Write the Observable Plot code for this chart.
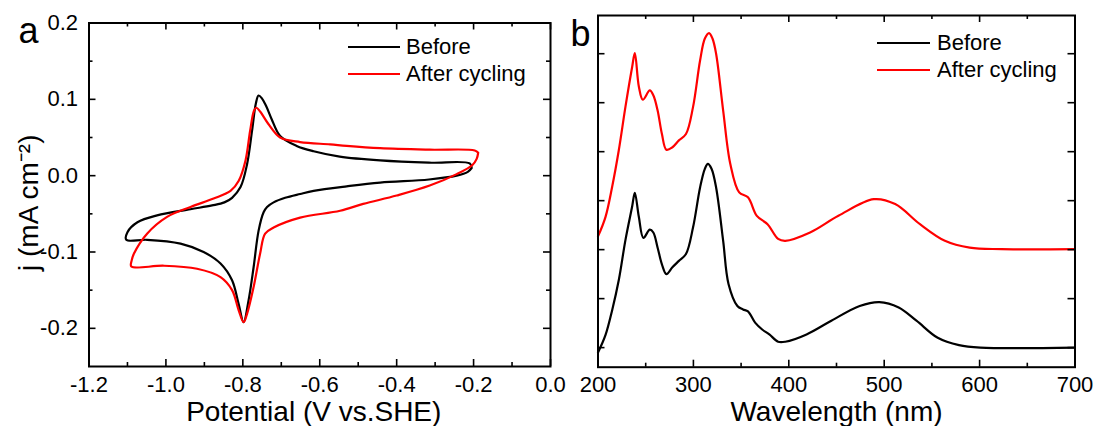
<!DOCTYPE html>
<html>
<head>
<meta charset="utf-8">
<script src="https://cdn.jsdelivr.net/npm/d3@7"></script>
<script src="https://cdn.jsdelivr.net/npm/@observablehq/plot@0.6"></script>
<style>
  body { margin: 0; background: white; }
  #wrap { position: relative; width: 1096px; height: 426px; background: white; font-family: "Liberation Sans", Arial, sans-serif; }
  .pane { position: absolute; top: 0; }
  .leg { position: absolute; font-size: 22px; line-height: 22px; color: black; white-space: nowrap; }
  .sw { position: absolute; height: 2px; }
</style>
</head>
<body>
<div id="wrap">
  <div id="pa" class="pane" style="left:0px"></div>
  <div id="pb" class="pane" style="left:570px"></div>
</div>
<script>
// ---------- Panel a: cyclic voltammetry ----------
const cvBeforeV = [-0.205,-0.215,-0.244,-0.316,-0.443,-0.530,-0.616,-0.651,-0.690,-0.720,-0.737,-0.746,-0.759,-0.772,-0.785,-0.798,-0.811,-0.828,-0.858,-0.902,-0.962,-1.049,-1.103,-1.100,-1.074,-1.023,-0.936,-0.880,-0.848,-0.828,-0.806,-0.789,-0.776,-0.766,-0.759,-0.750,-0.740,-0.725,-0.703,-0.660,-0.616,-0.548,-0.443,-0.316,-0.210,-0.205];
const cvBeforeJ = [0.010,0.005,0.000,-0.005,-0.009,-0.014,-0.020,-0.024,-0.029,-0.035,-0.041,-0.048,-0.072,-0.120,-0.163,-0.192,-0.168,-0.137,-0.115,-0.100,-0.089,-0.084,-0.084,-0.074,-0.061,-0.052,-0.044,-0.039,-0.035,-0.029,-0.015,0.015,0.059,0.095,0.105,0.101,0.092,0.074,0.052,0.039,0.032,0.025,0.020,0.017,0.016,0.010];
const cvAfterV = [-0.188,-0.192,-0.203,-0.244,-0.314,-0.400,-0.487,-0.547,-0.651,-0.720,-0.742,-0.755,-0.772,-0.789,-0.798,-0.811,-0.828,-0.858,-0.919,-1.005,-1.090,-1.089,-1.083,-1.049,-0.997,-0.936,-0.876,-0.832,-0.811,-0.793,-0.781,-0.771,-0.765,-0.755,-0.734,-0.703,-0.651,-0.573,-0.530,-0.443,-0.314,-0.197,-0.188];
const cvAfterJ = [0.030,0.022,0.014,0.002,-0.013,-0.026,-0.037,-0.046,-0.055,-0.068,-0.076,-0.102,-0.146,-0.181,-0.192,-0.176,-0.150,-0.133,-0.122,-0.118,-0.119,-0.111,-0.102,-0.076,-0.054,-0.041,-0.030,-0.020,-0.007,0.020,0.059,0.085,0.089,0.084,0.068,0.050,0.044,0.041,0.039,0.036,0.034,0.033,0.030];
const xTicksA = [-1.2,-1.0,-0.8,-0.6,-0.4,-0.2,0.0];
const xMinorA = [-1.1,-0.9,-0.7,-0.5,-0.3,-0.1];
const yTicksA = [-0.2,-0.1,0.0,0.1,0.2];
const yMinorA = [-0.15,-0.05,0.05,0.15];
const xTitleA = "Potential (V vs.SHE)";
const yTitleA = "j (mA cm\u207B\u00B2)";

// ---------- Panel b: UV-vis ----------
const uvBeforeNm = [200,207.9,214.9,221.8,228.8,235.8,238.6,242.8,247.6,254.3,258,262.5,267,271.7,278,284.8,292.2,299.6,307,312,315.2,319,323.8,331.2,336.8,346.1,352,357.2,364.7,372.1,379.6,388.8,396.3,418.6,444.6,474.3,495,515.2,533.8,556.1,578.4,600.7,700];
const uvBefore = [-0.010,0.026,0.077,0.138,0.220,0.288,0.316,0.267,0.224,0.241,0.235,0.204,0.170,0.150,0.164,0.177,0.191,0.245,0.327,0.365,0.375,0.365,0.327,0.218,0.130,0.085,0.078,0.074,0.051,0.037,0.027,0.012,0.012,0.027,0.055,0.085,0.093,0.082,0.055,0.020,0.005,0.000,0.000];
const uvAfterNm = [200,207.9,214.9,221.8,228.8,235.8,238.6,242.8,247,254.3,258,262.5,267,271.7,278,284.8,292.2,299.6,307,312,316.4,320,323.8,331.2,338.7,348,357.2,366.5,377.7,388.8,396.3,422.3,452,489.2,511.5,537.5,563.6,589.6,623,700];
const uvAfter = [0.227,0.267,0.329,0.403,0.492,0.573,0.601,0.533,0.506,0.525,0.515,0.484,0.436,0.404,0.409,0.423,0.436,0.491,0.586,0.631,0.642,0.631,0.600,0.484,0.375,0.317,0.307,0.269,0.252,0.222,0.218,0.235,0.269,0.303,0.293,0.252,0.218,0.204,0.201,0.201];
const xTicksB = [200,300,400,500,600,700];
const xMinorB = [250,350,450,550,650];
const yTicksB = [0,0.1,0.2,0.3,0.4,0.5,0.6];
const xTitleB = "Wavelength (nm)";

const seriesNames = ["Before", "After cycling"];
const seriesColors = ["#000000", "#ff0000"];

const FONT = "'Liberation Sans', Arial, sans-serif";
const cvBefore = cvBeforeV.map((v, i) => ({v, j: cvBeforeJ[i]}));
const cvAfter = cvAfterV.map((v, i) => ({v, j: cvAfterJ[i]}));
const uvB = uvBeforeNm.map((w, i) => ({w, a: uvBefore[i]}));
const uvA = uvAfterNm.map((w, i) => ({w, a: uvAfter[i]}));

function boxTicks(xMaj, xMin, yMaj, yMin, pw, ph, maj, mn) {
  const sw = 1.6;
  const m = [];
  for (const [vals, len] of [[xMaj, maj], [xMin, mn]]) {
    m.push(Plot.tickX(vals, {x: d => d, insetTop: ph - len, stroke: "black", strokeWidth: sw}));
    m.push(Plot.tickX(vals, {x: d => d, insetBottom: ph - len, stroke: "black", strokeWidth: sw}));
  }
  for (const [vals, len] of [[yMaj, maj], [yMin, mn]]) {
    m.push(Plot.tickY(vals, {y: d => d, insetRight: pw - len, stroke: "black", strokeWidth: sw}));
    m.push(Plot.tickY(vals, {y: d => d, insetLeft: pw - len, stroke: "black", strokeWidth: sw}));
  }
  return m;
}

// Panel a
const A = {w: 570, h: 426, ml: 88.5, mr: 20, mt: 22.5, mb: 60};
const pa = Plot.plot({
  width: A.w, height: A.h,
  marginLeft: A.ml, marginRight: A.mr, marginTop: A.mt, marginBottom: A.mb,
  x: {domain: [-1.2, 0], label: null},
  y: {domain: [-0.25, 0.2], label: null},
  style: {fontFamily: FONT, fontSize: "22px", color: "black", background: "white", overflow: "visible"},
  marks: [
    Plot.line(cvBefore, {x: "v", y: "j", stroke: seriesColors[0], strokeWidth: 2.2, curve: "catmull-rom"}),
    Plot.line(cvAfter, {x: "v", y: "j", stroke: seriesColors[1], strokeWidth: 2.2, curve: "catmull-rom"}),
    ...boxTicks(xTicksA, xMinorA, yTicksA, yMinorA, A.w - A.ml - A.mr, A.h - A.mt - A.mb, 7, 4),
    Plot.axisX(xTicksA, {anchor: "bottom", tickSize: 0, tickPadding: 10, label: null, tickFormat: d => d.toFixed(1), fontSize: 22}),
    Plot.axisY(yTicksA, {anchor: "left", tickSize: 0, tickPadding: 11, label: null, tickFormat: d => d.toFixed(1), fontSize: 22}),
    Plot.frame({stroke: "black", strokeWidth: 2}),
    Plot.text([xTitleA], {text: d => d, frameAnchor: "bottom", textAnchor: "middle", lineAnchor: "bottom", dx: -6, dy: 54, fontSize: 28}),
    Plot.text([yTitleA], {text: d => d, frameAnchor: "left", textAnchor: "middle", lineAnchor: "middle", dx: -60, dy: 8, rotate: -90, fontSize: 28}),
    Plot.text(["a"], {text: d => d, frameAnchor: "top-left", textAnchor: "start", lineAnchor: "bottom", dx: -70.5, dy: 19.5, fontSize: 36})
  ]
});
document.getElementById("pa").appendChild(pa);

// Panel b
const B = {w: 526, h: 426, ml: 27.5, mr: 21.5, mt: 15, mb: 59.3};
const pb = Plot.plot({
  width: B.w, height: B.h,
  marginLeft: B.ml, marginRight: B.mr, marginTop: B.mt, marginBottom: B.mb,
  x: {domain: [200, 700], label: null},
  y: {domain: [-0.04, 0.678], label: null, axis: null},
  style: {fontFamily: FONT, fontSize: "22px", color: "black", background: "white", overflow: "visible"},
  marks: [
    Plot.line(uvB, {x: "w", y: "a", stroke: seriesColors[0], strokeWidth: 2.2, curve: "catmull-rom"}),
    Plot.line(uvA, {x: "w", y: "a", stroke: seriesColors[1], strokeWidth: 2.2, curve: "catmull-rom"}),
    ...boxTicks(xTicksB, xMinorB, yTicksB, [], B.w - B.ml - B.mr, B.h - B.mt - B.mb, 7, 4),
    Plot.axisX(xTicksB, {anchor: "bottom", tickSize: 0, tickPadding: 9.5, label: null, tickFormat: d => String(d), fontSize: 22}),
    Plot.frame({stroke: "black", strokeWidth: 2}),
    Plot.text([xTitleB], {text: d => d, frameAnchor: "bottom", textAnchor: "middle", lineAnchor: "bottom", dy: 54, fontSize: 28}),
    Plot.text(["b"], {text: d => d, frameAnchor: "top-left", textAnchor: "start", lineAnchor: "bottom", dx: -27.5, dy: 30, fontSize: 36})
  ]
});
document.getElementById("pb").appendChild(pb);

// Legends (HTML overlay)
const wrap = document.getElementById("wrap");
function legend(x0, x1, tx, ys) {
  seriesNames.forEach((name, i) => {
    const sw = document.createElement("div");
    sw.className = "sw";
    sw.style.left = x0 + "px";
    sw.style.width = (x1 - x0) + "px";
    sw.style.top = (ys[i] - 1) + "px";
    sw.style.background = seriesColors[i];
    wrap.appendChild(sw);
    const t = document.createElement("div");
    t.className = "leg";
    t.style.left = tx + "px";
    t.style.top = (ys[i] - 11) + "px";
    t.textContent = name;
    wrap.appendChild(t);
  });
}
legend(348, 400, 406, [47, 74]);
legend(877, 930, 937, [43, 70]);
</script>
</body>
</html>
